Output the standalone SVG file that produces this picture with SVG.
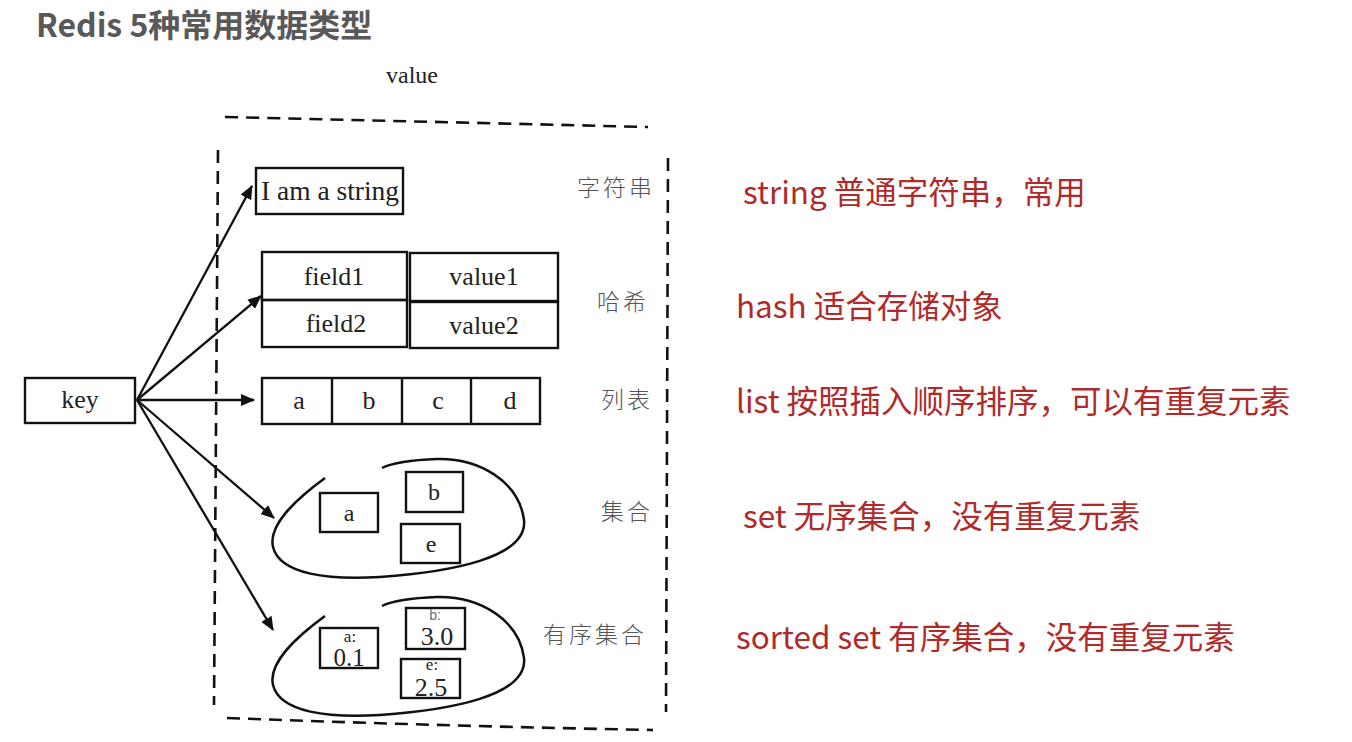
<svg xmlns="http://www.w3.org/2000/svg" width="1352" height="742" viewBox="0 0 1352 742">
<defs>
<style>
.box{fill:none;stroke:#111;stroke-width:2.4}
.dash{fill:none;stroke:#111;stroke-width:2.6;stroke-dasharray:13 8}
.conn{fill:none;stroke:#111;stroke-width:2.3}
.blob{fill:none;stroke:#111;stroke-width:2.5}
.hw{font-family:"Liberation Serif","DejaVu Serif",serif;fill:#222;text-anchor:middle}
.cn{font-family:"Noto Sans CJK SC",sans-serif;fill:#555;font-size:23px;font-weight:300;letter-spacing:3px}
.note{font-family:"Noto Sans CJK SC","Noto Sans",sans-serif;fill:#B02A2A;font-size:31.5px}
.title{font-family:"Noto Sans CJK SC","Noto Sans",sans-serif;fill:#595959;font-size:32px;font-weight:bold}
</style>
<marker id="ah" viewBox="0 0 14 12" refX="13" refY="6" markerWidth="14" markerHeight="12" markerUnits="userSpaceOnUse" orient="auto">
<path d="M0,0 L14,6 L0,12 z" fill="#111"/>
</marker>
</defs>
<rect width="1352" height="742" fill="#fff"/>

<text class="title" x="36" y="37">Redis 5种常用数据类型</text>
<text class="hw" x="412" y="83" font-size="24">value</text>

<g id="frame">
<path class="dash" d="M225,117 Q440,122 648,127"/>
<path class="dash" d="M218,150 L214,705"/>
<path class="dash" d="M668,158 L666,712"/>
<path class="dash" d="M227,718 Q440,726 653,730"/>
</g>

<g id="connectors">
<line class="conn" x1="137" y1="400" x2="252" y2="186" marker-end="url(#ah)"/>
<line class="conn" x1="137" y1="400" x2="261" y2="296" marker-end="url(#ah)"/>
<line class="conn" x1="137" y1="400" x2="254" y2="400" marker-end="url(#ah)"/>
<line class="conn" x1="137" y1="400" x2="274" y2="518" marker-end="url(#ah)"/>
<line class="conn" x1="137" y1="400" x2="273" y2="630" marker-end="url(#ah)"/>
</g>

<g id="key">
<rect class="box" x="25" y="378" width="110" height="45"/>
<text class="hw" x="80" y="408" font-size="26">key</text>
</g>

<g id="string">
<rect class="box" x="256" y="168" width="147" height="46"/>
<text class="hw" x="330" y="200" font-size="27" textLength="138" lengthAdjust="spacingAndGlyphs">I am a string</text>
<text class="cn" x="577" y="196">字符串</text>
</g>

<g id="hash">
<rect class="box" x="262" y="252" width="145" height="48"/>
<rect class="box" x="410" y="253" width="148" height="48"/>
<rect class="box" x="262" y="300" width="145" height="47"/>
<rect class="box" x="410" y="302" width="148" height="46"/>
<text class="hw" x="334" y="285" font-size="26">field1</text>
<text class="hw" x="484" y="285" font-size="26">value1</text>
<text class="hw" x="336" y="332" font-size="26">field2</text>
<text class="hw" x="484" y="334" font-size="26">value2</text>
<text class="cn" x="597" y="310">哈希</text>
</g>

<g id="list">
<rect class="box" x="262" y="378" width="278" height="46"/>
<line class="box" x1="332" y1="378" x2="332" y2="424"/>
<line class="box" x1="402" y1="378" x2="402" y2="424"/>
<line class="box" x1="471" y1="378" x2="471" y2="424"/>
<text class="hw" x="299" y="409" font-size="26">a</text>
<text class="hw" x="369" y="409" font-size="26">b</text>
<text class="hw" x="438" y="409" font-size="26">c</text>
<text class="hw" x="510" y="409" font-size="26">d</text>
<text class="cn" x="601" y="408">列表</text>
</g>

<g id="set">
<path class="blob" d="M325,478 C295,500 268,525 273,547 C280,575 330,580 380,577 C450,572 528,558 524,520 C519,482 480,458 437,459 C410,460 392,463 382,468"/>
<rect class="box" x="320" y="493" width="58" height="39"/>
<rect class="box" x="406" y="472" width="57" height="40"/>
<rect class="box" x="401" y="524" width="59" height="39"/>
<text class="hw" x="349" y="521" font-size="24">a</text>
<text class="hw" x="434" y="500" font-size="24">b</text>
<text class="hw" x="431" y="552" font-size="24">e</text>
<text class="cn" x="601" y="520">集合</text>
</g>

<g id="sortedset">
<path class="blob" d="M325,616 C295,638 268,663 273,685 C280,713 330,718 380,715 C450,710 528,696 524,658 C519,620 480,596 437,597 C410,598 392,601 382,606"/>
<rect class="box" x="320" y="628" width="58" height="40"/>
<rect class="box" x="406" y="608" width="59" height="41"/>
<rect class="box" x="401" y="659" width="59" height="39"/>
<text class="hw" x="350" y="642" font-size="17">a:</text>
<text class="hw" x="349" y="666" font-size="25">0.1</text>
<text x="435" y="620" font-size="14" fill="#5a6f8c" font-family="Liberation Sans, sans-serif" text-anchor="middle">b:</text>
<text class="hw" x="437" y="645" font-size="26">3.0</text>
<text class="hw" x="432" y="670" font-size="17">e:</text>
<text class="hw" x="431" y="696" font-size="26">2.5</text>
<text class="cn" x="543" y="643">有序集合</text>
</g>

<g id="notes">
<text class="note" x="743" y="204">string 普通字符串，常用</text>
<text class="note" x="736" y="318">hash 适合存储对象</text>
<text class="note" x="736" y="413">list 按照插入顺序排序，可以有重复元素</text>
<text class="note" x="743" y="528">set 无序集合，没有重复元素</text>
<text class="note" x="736" y="649">sorted set 有序集合，没有重复元素</text>
</g>
</svg>
